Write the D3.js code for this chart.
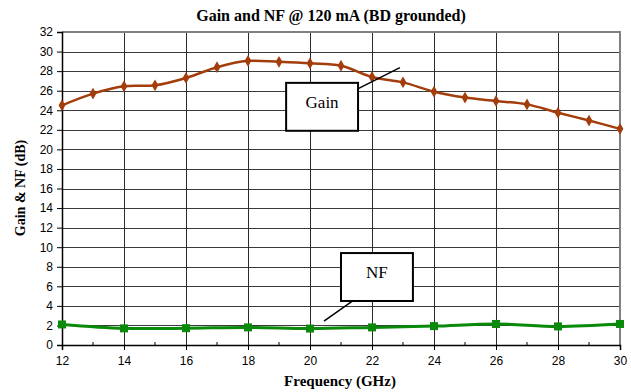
<!DOCTYPE html>
<html>
<head>
<meta charset="utf-8">
<script src="https://cdn.jsdelivr.net/npm/d3@7"></script>
<style>
  body { margin: 0; background: #fff; }
  svg { display: block; }
</style>
</head>
<body>
<div id="chart"></div>
<script>
// values
var gainFreq = [12, 13, 14, 15, 16, 17, 18, 19, 20, 21, 22, 23, 24, 25, 26, 27, 28, 29, 30];
var gainDb = [24.5, 25.7, 26.45, 26.55, 27.3, 28.4, 29.05, 28.95, 28.8, 28.55, 27.4, 26.85, 25.9, 25.3, 24.95, 24.6, 23.75, 22.95, 22.1];
var nfFreq = [12, 14, 16, 18, 20, 22, 24, 26, 28, 30];
var nfDb = [2.1, 1.7, 1.72, 1.8, 1.68, 1.8, 1.93, 2.15, 1.9, 2.15];
var xTicks = [12, 14, 16, 18, 20, 22, 24, 26, 28, 30];
var yTicks = d3.range(0, 33, 2);

var width = 631, height = 392;
var margin = {top: 32, right: 11, bottom: 47, left: 62};
var w = width - margin.left - margin.right,
    h = height - margin.top - margin.bottom;
var serif = "'Liberation Serif', 'Times New Roman', Times, serif";

var svg = d3.select("#chart")
    .append("svg")
    .attr("width", width)
    .attr("height", height);

var g = svg.append("g")
    .attr("transform", "translate(" + margin.left + "," + margin.top + ")");

var x = d3.scaleLinear().domain([12, 30]).range([0, w]);
var y = d3.scaleLinear().domain([0, 32]).range([h, 0]);

// grid
g.selectAll(".hgrid")
    .data(yTicks.filter(function(d) { return d > 0 && d < 32; }))
    .enter()
    .append("line")
    .attr("x1", 0).attr("x2", w)
    .attr("y1", function(d) { return Math.round(y(d)) + 0.5; })
    .attr("y2", function(d) { return Math.round(y(d)) + 0.5; })
    .attr("stroke", "#3a3a3a")
    .attr("stroke-width", 1);

g.selectAll(".vgrid")
    .data(xTicks.filter(function(d) { return d > 12 && d < 30; }))
    .enter()
    .append("line")
    .attr("y1", 0).attr("y2", h)
    .attr("x1", function(d) { return Math.round(x(d)) + 0.5; })
    .attr("x2", function(d) { return Math.round(x(d)) + 0.5; })
    .attr("stroke", "#2a2a2a")
    .attr("stroke-width", 1);

// plot area border (top / right)
g.append("path")
    .attr("d", "M0," + y(32) + "H" + x(30) + "V" + y(0))
    .attr("fill", "none")
    .attr("stroke", "#808080")
    .attr("stroke-width", 2);

// axes
var yAxis = g.append("g")
    .call(d3.axisLeft(y).tickValues(yTicks).tickSize(5).tickPadding(4));
var xAxis = g.append("g")
    .attr("transform", "translate(0," + h + ")")
    .call(d3.axisBottom(x).tickValues(xTicks).tickSize(5).tickPadding(6));

// minor ticks on the x axis
xAxis.selectAll(".minor")
    .data(d3.range(13, 30, 2))
    .enter()
    .append("line")
    .attr("x1", function(d) { return x(d); })
    .attr("x2", function(d) { return x(d); })
    .attr("y1", 0).attr("y2", -3)
    .attr("stroke", "#000");

[yAxis, xAxis].forEach(function(a) {
    a.select(".domain").attr("stroke", "#000").attr("stroke-width", 1.5);
    a.selectAll(".tick line").attr("stroke", "#000");
    a.selectAll("text")
        .attr("fill", "#000")
        .style("font-family", "'Liberation Sans', Arial, sans-serif")
        .style("font-size", "12px");
});

// series
var line = d3.line()
    .x(function(d) { return x(d[0]); })
    .y(function(d) { return y(d[1]); })
    .curve(d3.curveCatmullRom.alpha(0.5));

var gainData = d3.zip(gainFreq, gainDb);
var nfData = d3.zip(nfFreq, nfDb);

var gainColor = "#a33d0b", nfColor = "#0a8a0a";

g.append("path")
    .datum(gainData)
    .attr("d", line)
    .attr("fill", "none")
    .attr("stroke", gainColor)
    .attr("stroke-width", 2.5);

g.selectAll(".gpt")
    .data(gainData)
    .enter()
    .append("path")
    .attr("transform", function(d) { return "translate(" + x(d[0]) + "," + y(d[1]) + ")"; })
    .attr("d", d3.symbol().type(d3.symbolDiamond).size(40))
    .attr("fill", gainColor);

g.append("path")
    .datum(nfData)
    .attr("d", line)
    .attr("fill", "none")
    .attr("stroke", nfColor)
    .attr("stroke-width", 3);

g.selectAll(".npt")
    .data(nfData)
    .enter()
    .append("rect")
    .attr("x", function(d) { return x(d[0]) - 4; })
    .attr("y", function(d) { return y(d[1]) - 4; })
    .attr("width", 8)
    .attr("height", 8)
    .attr("fill", nfColor);

// callout boxes
function callout(label, bx0, bx1, by0, by1, lx0, ly0, lx1, ly1) {
    g.append("line")
        .attr("x1", x(lx0)).attr("y1", y(ly0))
        .attr("x2", x(lx1)).attr("y2", y(ly1))
        .attr("stroke", "#000")
        .attr("stroke-width", 1.5);
    g.append("rect")
        .attr("x", x(bx0)).attr("y", y(by1))
        .attr("width", x(bx1) - x(bx0))
        .attr("height", y(by0) - y(by1))
        .attr("fill", "#fff")
        .attr("stroke", "#000")
        .attr("stroke-width", 2);
    g.append("text")
        .attr("x", (x(bx0) + x(bx1)) / 2)
        .attr("y", y(by1) + 25)
        .attr("text-anchor", "middle")
        .attr("font-family", serif)
        .attr("font-size", 17)
        .text(label);
}
callout("Gain", 19.23, 21.55, 21.9, 26.8, 21.3, 25.8, 22.9, 28.35);
callout("NF", 21.0, 23.32, 4.5, 9.4, 21.55, 4.9, 20.45, 2.45);

// titles
svg.append("text")
    .attr("x", 331)
    .attr("y", 21)
    .attr("text-anchor", "middle")
    .attr("font-family", serif)
    .attr("font-weight", "bold")
    .attr("font-size", 16)
    .text("Gain and NF @ 120 mA (BD grounded)");

svg.append("text")
    .attr("x", 340)
    .attr("y", 386)
    .attr("text-anchor", "middle")
    .attr("font-family", serif)
    .attr("font-weight", "bold")
    .attr("font-size", 15)
    .text("Frequency (GHz)");

svg.append("text")
    .attr("transform", "translate(25," + 188 + ") rotate(-90)")
    .attr("text-anchor", "middle")
    .attr("font-family", serif)
    .attr("font-weight", "bold")
    .attr("font-size", 14)
    .text("Gain & NF (dB)");
</script>
</body>
</html>
